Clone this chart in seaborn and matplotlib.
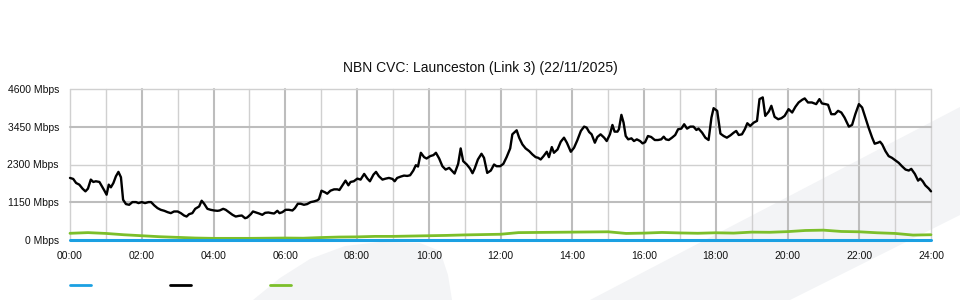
import matplotlib
matplotlib.use("Agg")
import matplotlib.pyplot as plt
from matplotlib.patches import Polygon
from matplotlib.lines import Line2D
import seaborn as sns
import pandas as pd

sns.set_style("white")
plt.rcParams['font.family'] = ['Liberation Sans', 'DejaVu Sans']

TITLE = "NBN CVC: Launceston (Link 3) (22/11/2025)"
y_ticks = [0, 1150, 2300, 3450, 4600]
y_labels = ["0 Mbps", "1150 Mbps", "2300 Mbps", "3450 Mbps", "4600 Mbps"]
x_ticks = list(range(0, 25, 2))
x_labels = ["%02d:00" % h for h in x_ticks]

black_hours = [
    0.00, 0.09, 0.17, 0.26, 0.35, 0.43, 0.50, 0.58, 0.65, 0.72, 0.82, 0.89, 0.96,
    1.02, 1.08, 1.14, 1.21, 1.28, 1.35, 1.42, 1.48, 1.56, 1.65, 1.74, 1.84, 1.91,
    2.00, 2.09, 2.19, 2.26, 2.35, 2.44, 2.53, 2.63, 2.72, 2.81, 2.90,
    3.00, 3.09, 3.18, 3.25, 3.32, 3.41, 3.49, 3.60, 3.67, 3.74, 3.83, 3.92,
    4.02, 4.11, 4.17, 4.27, 4.34, 4.43, 4.53, 4.62, 4.71, 4.79, 4.88, 4.94,
    5.04, 5.10, 5.19, 5.27, 5.36, 5.44, 5.53, 5.62, 5.69, 5.78, 5.84, 5.92,
    6.01, 6.10, 6.20, 6.27, 6.35, 6.43, 6.52, 6.61, 6.71, 6.80, 6.89, 6.94,
    7.01, 7.11, 7.17, 7.26, 7.36, 7.45, 7.51, 7.59, 7.68, 7.76, 7.82, 7.91,
    8.01, 8.10, 8.20, 8.29, 8.36, 8.46, 8.53, 8.61, 8.71, 8.80, 8.89, 8.99,
    9.05, 9.12, 9.22, 9.31, 9.40, 9.48, 9.57, 9.64, 9.70, 9.78, 9.87, 9.94,
    10.04, 10.13, 10.20, 10.29, 10.38, 10.47, 10.57, 10.66, 10.72, 10.82, 10.89, 10.96,
    11.06, 11.15, 11.22, 11.28, 11.37, 11.47, 11.54, 11.63, 11.73, 11.82, 11.89, 11.99,
    12.08, 12.17, 12.27, 12.33, 12.45, 12.52, 12.61, 12.70, 12.80, 12.89, 12.98,
    13.05, 13.12, 13.20, 13.29, 13.35, 13.43, 13.49, 13.59, 13.68, 13.77, 13.85, 13.96,
    14.05, 14.14, 14.24, 14.33, 14.40, 14.47, 14.54, 14.63, 14.70, 14.79, 14.89, 14.96,
    15.05, 15.12, 15.18, 15.26, 15.30, 15.37, 15.43, 15.49, 15.56, 15.65, 15.72, 15.80, 15.89, 15.96,
    16.03, 16.11, 16.20, 16.30, 16.39, 16.48, 16.55, 16.61, 16.69, 16.78, 16.87, 16.95,
    17.04, 17.12, 17.20, 17.29, 17.38, 17.46, 17.52, 17.62, 17.71, 17.80, 17.88, 17.94,
    18.04, 18.13, 18.22, 18.31, 18.41, 18.50, 18.57, 18.64, 18.73, 18.81, 18.88, 18.96,
    19.06, 19.15, 19.22, 19.31, 19.38, 19.48, 19.55, 19.64, 19.74, 19.83, 19.92,
    20.03, 20.13, 20.22, 20.31, 20.41, 20.48, 20.57, 20.68, 20.80, 20.89, 20.96,
    21.06, 21.13, 21.22, 21.32, 21.41, 21.50, 21.59, 21.71, 21.80, 21.89, 21.99,
    22.08, 22.17, 22.26, 22.36, 22.43, 22.52, 22.58, 22.64, 22.73, 22.82, 22.91,
    23.01, 23.10, 23.19, 23.29, 23.38, 23.45, 23.55, 23.64, 23.70, 23.77, 23.84, 23.94, 24.00,
]
black_mbps = [
    1891, 1860, 1737, 1686, 1564, 1482, 1564, 1840, 1768, 1789, 1768, 1635, 1502,
    1380, 1686, 1605, 1737, 1942, 2075, 1911, 1226, 1094, 1073, 1155, 1155, 1124,
    1155, 1124, 1155, 1155, 1053, 971, 920, 889, 848, 818, 869,
    869, 818, 746, 715, 787, 818, 950, 1022, 1196, 1104, 950, 920,
    899, 889, 899, 950, 920, 848, 767, 715, 736, 746, 664, 685,
    787, 869, 838, 807, 767, 828, 838, 818, 807, 889, 818, 848,
    920, 920, 899, 971, 1104, 1104, 1073, 1094, 1155, 1175, 1206, 1247,
    1502, 1451, 1410, 1502, 1543, 1543, 1523, 1656, 1809, 1666, 1768, 1789,
    1870, 1840, 2013, 1870, 1789, 1993, 2075, 1942, 1840, 1870, 1891, 1860,
    1789, 1891, 1932, 1962, 1952, 1972, 2116, 2279, 2238, 2657, 2524, 2483,
    2555, 2586, 2657, 2483, 2248, 2146, 2197, 2095, 2024, 2320, 2790, 2402,
    2300, 2177, 2034, 2177, 2453, 2627, 2504, 2044, 2116, 2300, 2248, 2248,
    2320, 2524, 2790, 3219, 3342, 3117, 2913, 2790, 2708, 2606, 2524,
    2504, 2453, 2555, 2688, 2524, 2831, 2657, 2759, 2994, 3117, 2964, 2688,
    2811, 3035, 3322, 3454, 3424, 3291, 3219, 2964, 3138, 3219, 3117, 3015,
    3219, 3505, 3301, 3301, 3373, 3812, 3577, 3168, 3066, 3097, 3015, 3066, 3015, 2943,
    2980, 3168, 3138, 3046, 3046, 3066, 3148, 3066, 3046, 3117, 3199, 3373,
    3393, 3526, 3393, 3454, 3454, 3352, 3393, 3270, 3117, 3046, 3730, 4016,
    3935, 3240, 3168, 3117, 3189, 3270, 3322, 3199, 3219, 3373, 3557, 3475,
    3577, 3628, 4292, 4344, 3781, 3914, 4088, 3751, 3679, 3710, 3781,
    3986, 3884, 4057, 4190, 4272, 4313, 4190, 4190, 4139, 4292, 4160,
    4139, 4119, 3833, 3833, 3935, 3884, 3730, 3454, 3505, 3833, 4139,
    4037, 3730, 3424, 3117, 2933, 2964, 2994, 2913, 2708, 2555, 2504,
    2422, 2351, 2248, 2146, 2116, 2167, 2013, 1809, 1870, 1789, 1666, 1564, 1482,
]

green_hours = [h / 2 for h in range(0, 49)]
green_mbps = [
    204, 225, 200, 160, 130, 100, 80, 60, 50, 50, 50, 55, 60, 55, 75, 90,
    95, 110, 110, 120, 130, 140, 155, 165, 175, 225, 230, 235, 240, 245, 250, 200,
    210, 230, 215, 205, 220, 210, 240, 235, 255, 290, 300, 260, 250, 220, 200, 150, 160,
]

blue_hours = [0, 24]
blue_mbps = [10, 10]

BLUE = "#1ba0e2"
GREEN = "#7cbf2a"
BLACK = "#000000"

W, H = 960, 300
fig = plt.figure(figsize=(9.6, 3.0), dpi=100)
fig.patch.set_facecolor("white")

# faint watermark shapes in background
def px(pts):
    return [(x / W, 1 - y / H) for x, y in pts]

wm = "#f3f4f6"
fig.add_artist(Polygon(px([(590, 300), (960, 107), (960, 215), (790, 300)]),
                       closed=True, facecolor=wm, edgecolor="none", zorder=0,
                       transform=fig.transFigure))
fig.add_artist(Polygon(px([(253, 300), (280, 278), (310, 259), (345, 246), (380, 242),
                           (420, 243), (440, 251), (448, 275), (452, 300)]),
                       closed=True, facecolor=wm, edgecolor="none", zorder=0,
                       transform=fig.transFigure))

ax = fig.add_axes([70 / W, 1 - 240 / H, (931 - 70) / W, (240 - 89) / H])
ax.set_facecolor("none")
ax.set_zorder(2)

# grid
for h in range(0, 25):
    if h % 2 == 0 and 0 < h < 24:
        ax.axvline(h, color="#bdbdbd", lw=1.5, zorder=1)
    else:
        ax.axvline(h, color="#d0d0d0", lw=1.0, zorder=1)
for i, v in enumerate(y_ticks):
    if i % 2 == 1:
        ax.axhline(v, color="#bdbdbd", lw=1.5, zorder=1)
    else:
        ax.axhline(v, color="#d0d0d0", lw=1.0, zorder=1)

df_b = pd.DataFrame({"h": black_hours, "v": black_mbps})
df_g = pd.DataFrame({"h": green_hours, "v": green_mbps})
df_u = pd.DataFrame({"h": blue_hours, "v": blue_mbps})

sns.lineplot(data=df_g, x="h", y="v", ax=ax, color=GREEN, lw=2.0, zorder=3)
sns.lineplot(data=df_u, x="h", y="v", ax=ax, color=BLUE, lw=2.2, zorder=4)
sns.lineplot(data=df_b, x="h", y="v", ax=ax, color=BLACK, lw=1.7, zorder=5)
for ln in ax.lines:
    ln.set_clip_on(False)

ax.set_xlim(0, 24)
ax.set_ylim(0, 4600)
ax.set_xticks(x_ticks)
ax.set_xticklabels(x_labels, fontsize=7.5)
ax.set_yticks(y_ticks)
ax.set_yticklabels(y_labels, fontsize=7.5)
ax.tick_params(axis="x", length=6, width=1.2, color="#bdbdbd", pad=2, labelcolor="#111111")
ax.tick_params(axis="y", length=0, pad=8, labelcolor="#111111")
ax.set_xlabel("")
ax.set_ylabel("")
for s in ax.spines.values():
    s.set_visible(False)

fig.text(480 / W, 1 - 68 / H, TITLE, ha="center", va="center", fontsize=10, color="#111111")

# legend swatches (no labels)
for x0, c in [(70, BLUE), (170, BLACK), (270, GREEN)]:
    fig.add_artist(Line2D([x0 / W, (x0 + 21) / W], [1 - 285 / H, 1 - 285 / H],
                          color=c, lw=2.0, transform=fig.transFigure))

fig.savefig("out.png", dpi=100)
